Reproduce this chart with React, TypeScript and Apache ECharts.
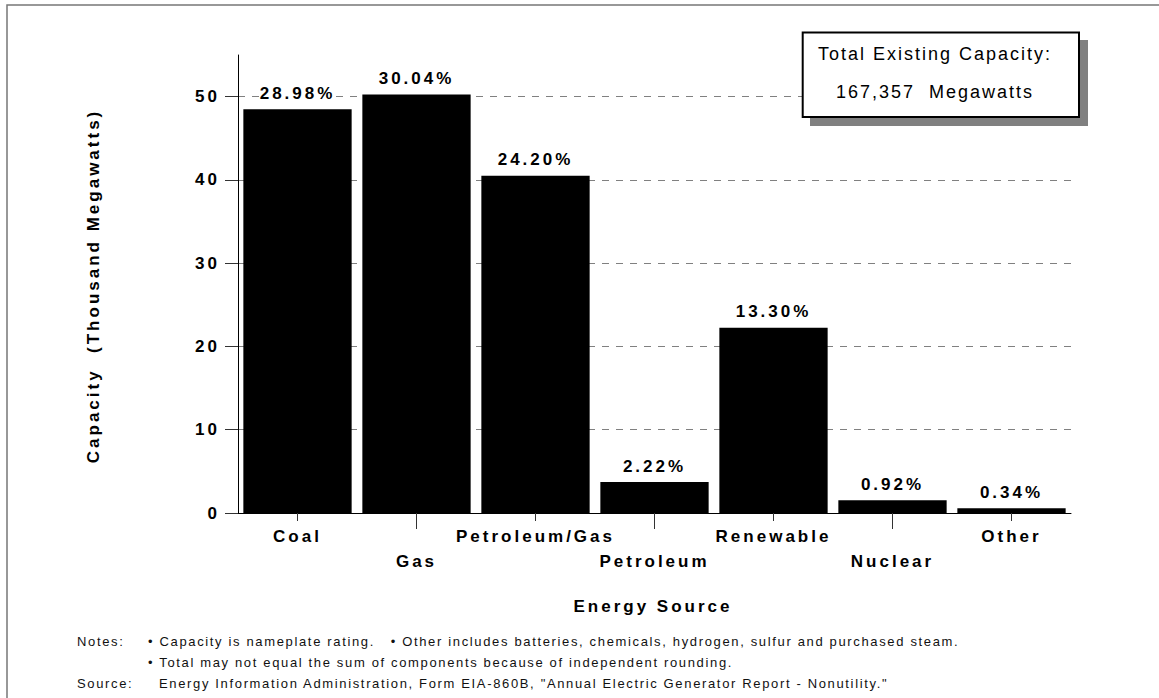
import React, { useEffect, useRef } from 'react';
import * as echarts from 'echarts';

const categories = ['Coal', 'Gas', 'Petroleum/Gas', 'Petroleum', 'Renewable', 'Nuclear', 'Other'];
const capacityThousandMW = [48.5, 50.27, 40.5, 3.72, 22.26, 1.54, 0.57];
const shareLabels = ['28.98%', '30.04%', '24.20%', '2.22%', '13.30%', '0.92%', '0.34%'];
const yTickValues = [0, 10, 20, 30, 40, 50];
const boxLines = ['Total Existing Capacity:', '167,357  Megawatts'];
const yTitle = 'Capacity  (Thousand Megawatts)';
const xTitle = 'Energy Source';
const notesLabel = 'Notes:';
const noteLines = [
  '\u2022 Capacity is nameplate rating.   \u2022 Other includes batteries, chemicals, hydrogen, sulfur and purchased steam.',
  '\u2022 Total may not equal the sum of components because of independent rounding.',
];
const sourceLabel = 'Source:';
const sourceText = 'Energy Information Administration, Form EIA-860B, "Annual Electric Generator Report - Nonutility."';

const FONT = '"Liberation Sans", Arial, Helvetica, sans-serif';

export default function App() {
  const ref = useRef<HTMLDivElement>(null);

  useEffect(() => {
    const chart = echarts.init(ref.current as HTMLDivElement, null, { renderer: 'svg' });
    const boldLabel = { fontFamily: FONT, fontSize: 17, fontWeight: 'bold', color: '#000' };
    const noteStyle = (text: string, x: number, y: number) => ({
      type: 'text',
      x,
      y,
      z: 100,
      silent: true,
      style: { text, fill: '#111', font: `13px ${FONT}`, textAlign: 'left', textVerticalAlign: 'middle' },
    });

    chart.setOption({
      animation: false,
      backgroundColor: '#ffffff',
      textStyle: { fontFamily: FONT },
      grid: { left: 238, right: 88, top: 55, bottom: 185, outerBoundsMode: 'none' },
      xAxis: [
        {
          type: 'category',
          data: categories,
          position: 'bottom',
          axisLine: { show: true, lineStyle: { color: '#000', width: 1 } },
          axisTick: {
            show: true,
            alignWithLabel: true,
            length: 8,
            interval: (i: number) => i % 2 === 0,
            lineStyle: { color: '#333' },
          },
          axisLabel: {
            ...boldLabel,
            interval: (i: number) => i % 2 === 0,
            margin: 13,
            lineHeight: 20,
          },
          splitLine: { show: false },
        },
        {
          type: 'category',
          data: categories,
          position: 'bottom',
          axisLine: { show: false },
          axisTick: {
            show: true,
            alignWithLabel: true,
            length: 16,
            interval: (i: number) => i % 2 === 1,
            lineStyle: { color: '#333' },
          },
          axisLabel: {
            ...boldLabel,
            interval: (i: number) => i % 2 === 1,
            margin: 38,
            lineHeight: 20,
          },
          splitLine: { show: false },
        },
      ],
      yAxis: {
        type: 'value',
        min: 0,
        max: 55,
        interval: 10,
        axisLine: { show: true, lineStyle: { color: '#000', width: 1 } },
        axisTick: { show: true, length: 13, customValues: yTickValues, lineStyle: { color: '#333' } },
        axisLabel: { ...boldLabel, customValues: yTickValues, margin: 18 },
        splitLine: {
          show: true,
          showMinLine: false,
          lineStyle: { color: '#808080', type: [7, 7], width: 1 },
        },
      },
      series: [
        {
          type: 'bar',
          xAxisIndex: 0,
          data: capacityThousandMW,
          barCategoryGap: '9%',
          itemStyle: { color: '#000' },
          label: {
            show: true,
            position: 'top',
            distance: 6,
            ...boldLabel,
            lineHeight: 20,
            backgroundColor: '#ffffff',
            padding: [0, 4],
            formatter: (p: any) => shareLabels[p.dataIndex],
          },
        },
      ],
      graphic: [
        {
          type: 'rect',
          z: 100,
          silent: true,
          shape: { x: 7, y: 5, width: 1170, height: 720 },
          style: { fill: 'none', stroke: '#777', lineWidth: 1.5 },
        },
        {
          type: 'rect',
          z: 100,
          silent: true,
          shape: { x: 810, y: 40, width: 278, height: 86 },
          style: { fill: '#808080' },
        },
        {
          type: 'rect',
          z: 101,
          silent: true,
          shape: { x: 802.7, y: 32.5, width: 276.3, height: 84.5 },
          style: { fill: '#fff', stroke: '#000', lineWidth: 2 },
        },
        {
          type: 'text',
          x: 935,
          y: 54,
          z: 102,
          silent: true,
          style: { text: boxLines[0], fill: '#000', font: `18px ${FONT}`, textAlign: 'center', textVerticalAlign: 'middle' },
        },
        {
          type: 'text',
          x: 935,
          y: 92,
          z: 102,
          silent: true,
          style: { text: boxLines[1], fill: '#000', font: `18px ${FONT}`, textAlign: 'center', textVerticalAlign: 'middle' },
        },
        {
          type: 'text',
          x: 93,
          y: 286,
          rotation: Math.PI / 2,
          z: 100,
          silent: true,
          style: { text: yTitle, fill: '#000', font: `bold 17px ${FONT}`, textAlign: 'center', textVerticalAlign: 'middle' },
        },
        {
          type: 'text',
          x: 653,
          y: 606,
          z: 100,
          silent: true,
          style: { text: xTitle, fill: '#000', font: `bold 17px ${FONT}`, textAlign: 'center', textVerticalAlign: 'middle' },
        },
        noteStyle(notesLabel, 77, 641),
        noteStyle(noteLines[0], 148, 641),
        noteStyle(noteLines[1], 148, 662),
        noteStyle(sourceLabel, 77, 683),
        noteStyle(sourceText, 159, 683),
      ],
    });

    return () => {
      chart.dispose();
    };
  }, []);

  return (
    <>
      <style>{`
        body { margin: 0; }
        .chart-host text { letter-spacing: 1.65px; }
        .chart-host text[style*="18px"] { letter-spacing: 2px; }
        .chart-host text[style*="bold"] { letter-spacing: 3px; }
      `}</style>
      <div
        ref={ref}
        className="chart-host"
        style={{ position: 'fixed', left: 0, top: 0, width: 1159, height: 698, background: '#fff' }}
      />
    </>
  );
}
